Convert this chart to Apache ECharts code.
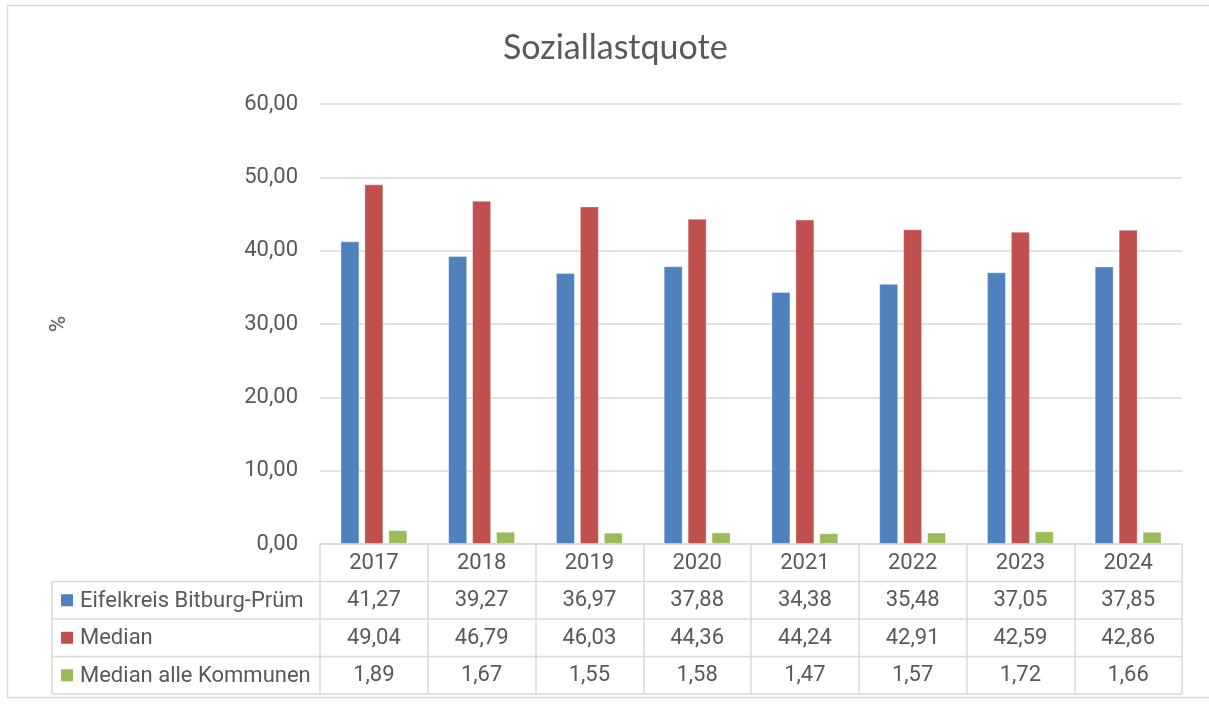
<!DOCTYPE html>
<html>
<head>
<meta charset="utf-8">
<script src="https://cdn.jsdelivr.net/npm/echarts@6/dist/echarts.min.js"></script>
<style>
  html, body { margin: 0; padding: 0; background: #fff; }
  #chart { width: 1209px; height: 704px; }
</style>
</head>
<body>
<div id="chart"></div>
<script>
// data
const years = ['2017', '2018', '2019', '2020', '2021', '2022', '2023', '2024']
const seriesNames = ['Eifelkreis Bitburg-Prüm', 'Median', 'Median alle Kommunen']
const eifelkreis = [41.27, 39.27, 36.97, 37.88, 34.38, 35.48, 37.05, 37.85]
const median = [49.04, 46.79, 46.03, 44.36, 44.24, 42.91, 42.59, 42.86]
const medianAlle = [1.89, 1.67, 1.55, 1.58, 1.47, 1.57, 1.72, 1.66]
const colors = ['#4F81BD', '#C0504D', '#9BBB59']

const rows = [eifelkreis, median, medianAlle]
const textColor = '#595959'
const lineColor = '#D9D9D9'
const font = 'Roboto'
const fontSize = 22

// layout
const gridLeft = 320
const gridRight = 27
const gridTop = 104
const axisY = 544
const rowH = 37.5
const tableLeft = 52
const tableRight = 1209 - gridRight

function fmt(v) {
  return v.toFixed(2).replace('.', ',')
}

const chart = echarts.init(document.getElementById('chart'))

// table axes: one per row, stacked below the category axis
const xAxes = [{
  type: 'category',
  data: years,
  position: 'bottom',
  axisLine: { show: true, lineStyle: { color: lineColor, width: 1.5 } },
  axisTick: { show: true, length: rowH * 4, lineStyle: { color: lineColor, width: 1.5 } },
  axisLabel: { color: textColor, fontSize: fontSize, fontFamily: font, margin: 8 }
}]
rows.forEach((row, k) => {
  xAxes.push({
    type: 'category',
    data: years,
    position: 'bottom',
    offset: rowH * (k + 1),
    axisLine: { show: false },
    axisTick: { show: false },
    axisLabel: {
      color: textColor,
      fontSize: fontSize,
      fontFamily: font,
      margin: 8,
      formatter: (v, i) => fmt(row[i])
    }
  })
})

const graphics = [{
  type: 'rect',
  shape: { x: 7.5, y: 5.5, width: 1300, height: 692 },
  style: { fill: 'none', stroke: lineColor, lineWidth: 1.5 },
  silent: true
}]
for (let k = 1; k <= 4; k++) {
  const y = axisY + rowH * k
  graphics.push({
    type: 'line',
    shape: { x1: tableLeft, y1: y, x2: tableRight, y2: y },
    style: { stroke: lineColor, lineWidth: 1.5 },
    silent: true
  })
}
graphics.push({
  type: 'line',
  shape: { x1: tableLeft, y1: axisY + rowH, x2: tableLeft, y2: axisY + rowH * 4 },
  style: { stroke: lineColor, lineWidth: 1.5 },
  silent: true
})
seriesNames.forEach((name, k) => {
  const cy = axisY + rowH * (k + 1.5)
  graphics.push({
    type: 'rect',
    shape: { x: 61, y: cy - 6, width: 12, height: 12 },
    style: { fill: colors[k] },
    silent: true
  })
  graphics.push({
    type: 'text',
    x: 80,
    y: cy + 1,
    style: {
      text: name,
      fill: textColor,
      font: fontSize + 'px ' + font,
      textVerticalAlign: 'middle'
    },
    silent: true
  })
})

const option = {
  animation: false,
  backgroundColor: '#fff',
  title: {
    text: 'Soziallastquote',
    left: 498,
    top: 26,
    textStyle: { color: textColor, fontSize: 34, fontWeight: 'normal', fontFamily: 'Lato' }
  },
  grid: {
    left: gridLeft,
    right: gridRight,
    top: gridTop,
    bottom: 704 - axisY,
    containLabel: false
  },
  xAxis: xAxes,
  yAxis: {
    type: 'value',
    min: 0,
    max: 60,
    interval: 10,
    name: '%',
    nameLocation: 'middle',
    nameRotate: 90,
    nameGap: 250,
    nameTextStyle: { color: textColor, fontSize: fontSize, fontFamily: font },
    axisLine: { show: false },
    axisTick: { show: false },
    axisLabel: {
      color: textColor,
      fontSize: fontSize,
      fontFamily: font,
      margin: 22,
      formatter: v => fmt(v)
    },
    splitLine: { lineStyle: { color: lineColor, width: 1.5 } }
  },
  series: rows.map((row, k) => ({
    name: seriesNames[k],
    type: 'bar',
    data: row,
    barWidth: 19,
    barGap: '26%',
    itemStyle: { color: colors[k], borderColor: 'rgba(255,255,255,0.35)', borderWidth: 1 }
  })),
  graphic: graphics
}

chart.setOption(option)
</script>
</body>
</html>
